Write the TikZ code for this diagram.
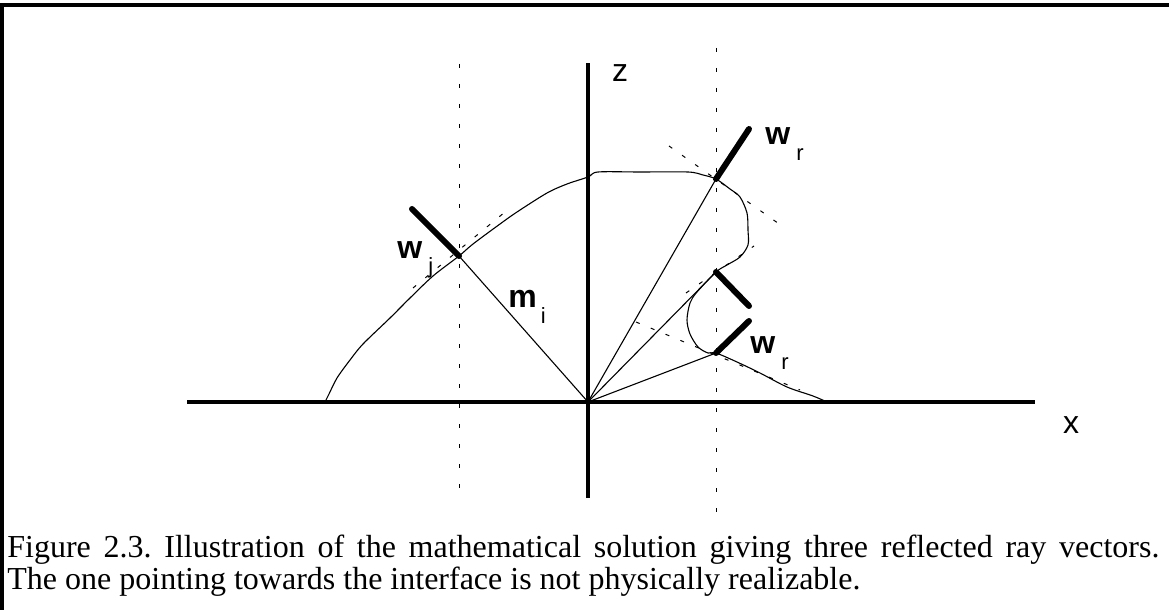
\documentclass[tikz,border=0pt]{standalone}
\usepackage{fontspec}
\setmainfont{Liberation Serif}
\setsansfont{Liberation Sans}
\usepackage{tikz}
\newcommand{\vecsub}[2]{\textbf{#1}\hspace{3pt}\raisebox{-8pt}{\fontsize{11}{13}\selectfont #2}}

\begin{document}
\begin{tikzpicture}[x=0.5pt, y=-0.5pt,
    axisline/.style={line width=1.6pt},
    guideline/.style={line width=0.5pt, dash pattern=on 2pt off 8pt},
    tangentline/.style={line width=0.5pt, dash pattern=on 2pt off 6pt},
    ray/.style={line width=0.55pt},
    wavevec/.style={line width=3pt, line cap=round},
    lbl/.style={font=\sffamily\fontsize{16}{18}\selectfont, inner sep=0pt}]
  \useasboundingbox (0,0) rectangle (1169,610);
  % frame
  \draw[line width=1.6pt] (2,610) -- (2,5) -- (1169,5);

  % axes and points
  \coordinate (O) at (588,402);
  \coordinate (xl) at (187,402);
  \coordinate (xr) at (1035,402);
  \coordinate (zb) at (588,498);
  \coordinate (zt) at (588,63);
  \coordinate (Pi) at (459,256);
  \coordinate (R1) at (716,179);
  \coordinate (R2) at (716,272);
  \coordinate (R3) at (716,353);
  \coordinate (wiTip) at (412,209);
  \coordinate (wr1Tip) at (749,129);
  \coordinate (wr2Tip) at (749,306);
  \coordinate (wr3Tip) at (749,321);

  \draw[axisline] (xl) -- (xr);
  \draw[axisline] (zb) -- (zt);
  \node[lbl] (zlabel) at (620,73) {z};
  \node[lbl] (xlabel) at (1071,425) {x};

  % vertical guides
  \draw[guideline] (459,64) -- (459,498);
  \draw[guideline] (716,48) -- (716,522);

  % solution curve
  \draw[line width=0.55pt]
    plot[smooth, tension=0.5] coordinates {
      (325,402) (329,394) (337,378) (350,360) (363,344) (390,318)
      (410,298) (433,276) (459,256) (473,244) (500,224) (517,212)
      (547,193) (567,184) (588,177) (598,172) (640,172) (688,172)
      (703,175) (716,179) (730,189) (740,197) (747,213) (748,230)
      (748,245) (740,257) (727,265) (716,272) (697,292) (690,303)
      (687,320) (690,334) (698,347) (708,353) (716,353) (737,362)
      (760,373) (787,387) (813,396) (827,402)};

  % tangents
  \draw[tangentline] (Pi) ++(-46,32) -- ++(92,-76);
  \draw[tangentline] (R1) ++(-47,-33) -- ++(113,80);
  \draw[tangentline] (R2) ++(-30,21) -- ++(68,-47);
  \draw[tangentline] (R3) ++(-80,-31) -- ++(164,68);

  % rays
  \draw[ray] (O) -- (Pi);
  \draw[ray] (O) -- (R1);
  \draw[ray] (O) -- (R2);
  \draw[ray] (O) -- (R3);

  % wave vectors
  \draw[wavevec] (Pi) -- (wiTip);
  \draw[wavevec] (R1) -- (wr1Tip);
  \draw[wavevec] (R2) -- (wr2Tip);
  \draw[wavevec] (R3) -- (wr3Tip);

  \node[lbl, anchor=base west] (wj) at (397,258) {\vecsub{w}{j}};
  \node[lbl, anchor=base west] (mi) at (508,307) {\textbf{m}\hspace{2pt}\raisebox{-8pt}{\fontsize{11}{13}\selectfont i}};
  \node[lbl, anchor=base west] (wr1) at (765,145) {\vecsub{w}{r}};
  \node[lbl, anchor=base west] (wr3) at (750,353) {\vecsub{w}{r}};

  % caption
  \node[inner sep=0pt, anchor=base west, font=\fontsize{16}{18}\selectfont\frenchspacing] (cap1) at (7,557)
    {\makebox[576pt][s]{Figure 2.3. Illustration of the mathematical solution giving three reflected ray vectors.}};
  \node[inner sep=0pt, anchor=base west, font=\fontsize{16}{18}\selectfont\frenchspacing] (cap2) at (7,589)
    {The one pointing towards the interface is not physically realizable.};
\end{tikzpicture}
\end{document}
